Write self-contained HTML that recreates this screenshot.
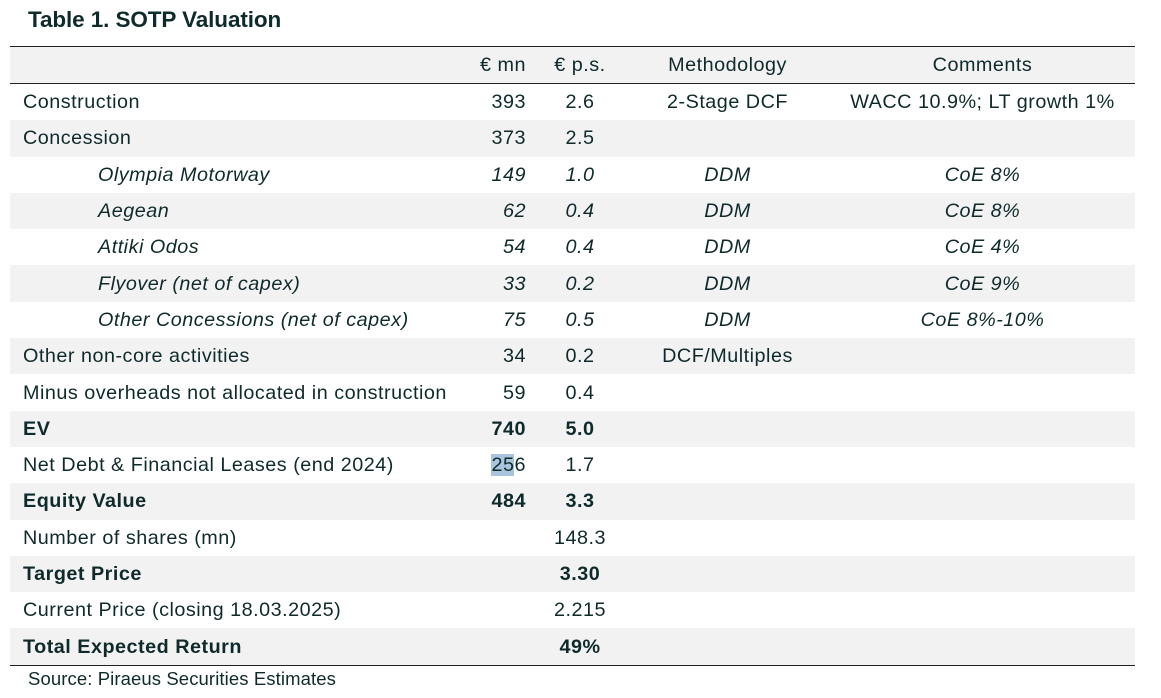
<!DOCTYPE html>
<html><head><meta charset="utf-8"><style>
body{margin:0;width:1161px;height:698px;background:#fff;font-family:"Liberation Sans",sans-serif;color:#0f2a2a;position:relative;overflow:hidden}
.title{position:absolute;left:28px;top:7px;font-size:22.5px;font-weight:bold;letter-spacing:-0.1px}
table{position:absolute;left:10px;top:46px;width:1125px;border-collapse:collapse;table-layout:fixed;font-size:19.8px;letter-spacing:0.5px}
td{height:36.3px;padding:0;white-space:nowrap;line-height:36px}
thead tr td{border-top:1.5px solid #222;border-bottom:1.5px solid #222;height:35px;background:#f2f2f2}
td.l{padding-left:13px}
td.i{padding-left:88px;font-style:italic}
td.n{text-align:right;padding-right:9px}
td.c{text-align:center}
tr.b td{font-weight:bold}
tr.it td{font-style:italic}
tbody tr:last-child td{border-bottom:1.5px solid #222}
.src{position:absolute;left:28px;top:668px;font-size:18.5px;letter-spacing:0.1px}
</style></head><body>
<div class="title">Table 1. SOTP Valuation</div>
<table>
<colgroup><col style="width:440px"><col style="width:85px"><col style="width:90px"><col style="width:205px"><col style="width:305px"></colgroup>
<thead><tr><td></td><td class="n">€ mn</td><td class="c">€ p.s.</td><td class="c">Methodology</td><td class="c">Comments</td></tr></thead>
<tbody>
<tr style="background:#fff"><td class="l">Construction</td><td class="n">393</td><td class="c">2.6</td><td class="c">2-Stage DCF</td><td class="c">WACC 10.9%; LT growth 1%</td></tr>
<tr style="background:#f2f2f2"><td class="l">Concession</td><td class="n">373</td><td class="c">2.5</td><td></td><td></td></tr>
<tr style="background:#fff" class="it"><td class="i">Olympia Motorway</td><td class="n">149</td><td class="c">1.0</td><td class="c">DDM</td><td class="c">CoE 8%</td></tr>
<tr style="background:#f2f2f2" class="it"><td class="i">Aegean</td><td class="n">62</td><td class="c">0.4</td><td class="c">DDM</td><td class="c">CoE 8%</td></tr>
<tr style="background:#fff" class="it"><td class="i">Attiki Odos</td><td class="n">54</td><td class="c">0.4</td><td class="c">DDM</td><td class="c">CoE 4%</td></tr>
<tr style="background:#f2f2f2" class="it"><td class="i">Flyover (net of capex)</td><td class="n">33</td><td class="c">0.2</td><td class="c">DDM</td><td class="c">CoE 9%</td></tr>
<tr style="background:#fff" class="it"><td class="i">Other Concessions (net of capex)</td><td class="n">75</td><td class="c">0.5</td><td class="c">DDM</td><td class="c">CoE 8%-10%</td></tr>
<tr style="background:#f2f2f2"><td class="l">Other non-core activities</td><td class="n">34</td><td class="c">0.2</td><td class="c">DCF/Multiples</td><td></td></tr>
<tr style="background:#fff"><td class="l">Minus overheads not allocated in construction</td><td class="n">59</td><td class="c">0.4</td><td></td><td></td></tr>
<tr style="background:#f2f2f2" class="b"><td class="l">EV</td><td class="n">740</td><td class="c">5.0</td><td></td><td></td></tr>
<tr style="background:#fff"><td class="l">Net Debt &amp; Financial Leases (end 2024)</td><td class="n"><span style="background:#a9c4dc">25</span>6</td><td class="c">1.7</td><td></td><td></td></tr>
<tr style="background:#f2f2f2" class="b"><td class="l">Equity Value</td><td class="n">484</td><td class="c">3.3</td><td></td><td></td></tr>
<tr style="background:#fff"><td class="l">Number of shares (mn)</td><td></td><td class="c">148.3</td><td></td><td></td></tr>
<tr style="background:#f2f2f2" class="b"><td class="l">Target Price</td><td></td><td class="c">3.30</td><td></td><td></td></tr>
<tr style="background:#fff"><td class="l">Current Price (closing 18.03.2025)</td><td></td><td class="c">2.215</td><td></td><td></td></tr>
<tr style="background:#f2f2f2" class="b"><td class="l">Total Expected Return</td><td></td><td class="c">49%</td><td></td><td></td></tr>
</tbody></table>
<div class="src">Source: Piraeus Securities Estimates</div>
</body></html>
